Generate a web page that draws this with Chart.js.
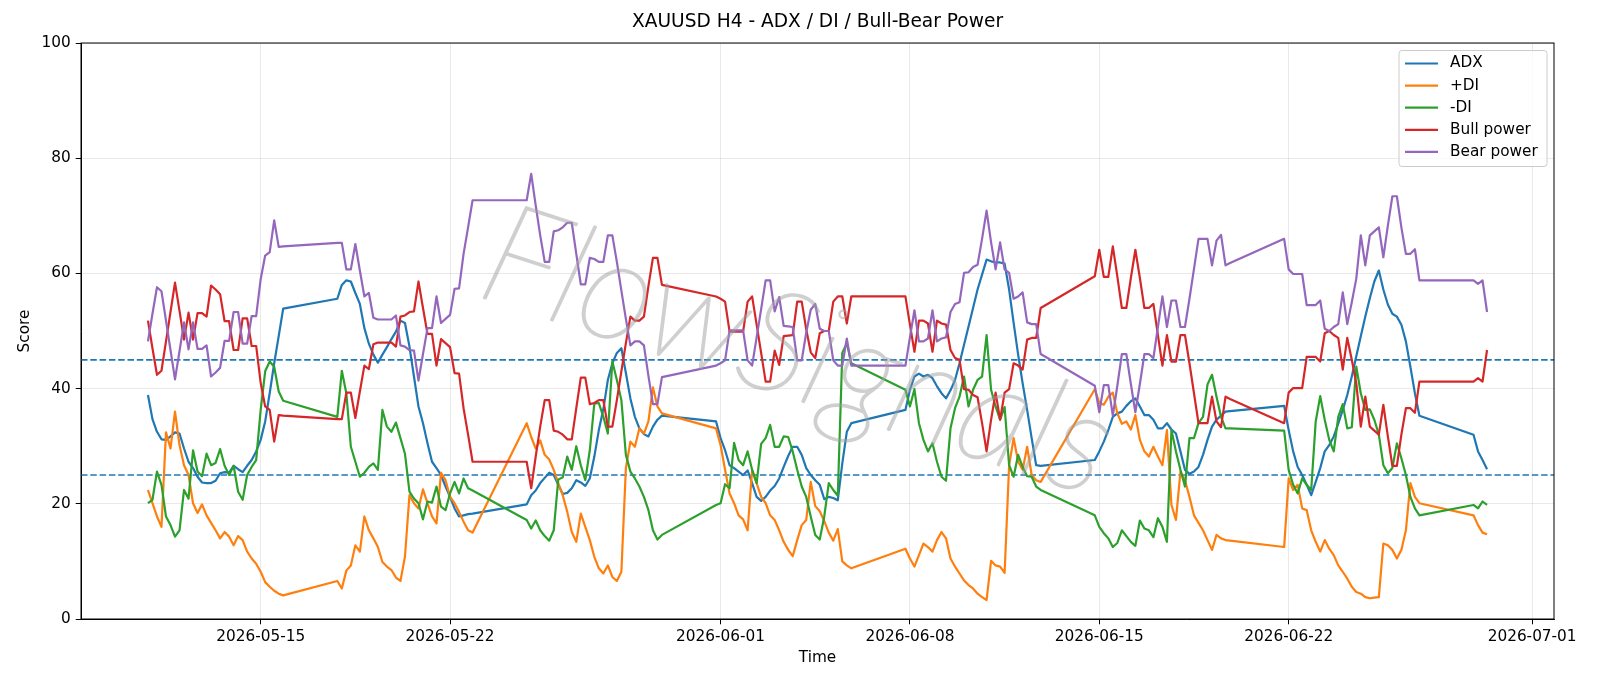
<!doctype html>
<html lang="en">
  <head>
    <meta charset="utf-8">
    <title>XAUUSD H4 - ADX / DI / Bull-Bear Power</title>
    <style>
      * {
        margin: 0;
        padding: 0;
      }
      body {
        background: #fff;
      }
      .chartBox {
        width: 1600px;
        height: 686px;
      }
    </style>
  </head>
  <body>
    <div class="chartBox">
      <canvas id="myChart" width="1600" height="686"></canvas>
    </div>
    <script src="https://cdn.jsdelivr.net/npm/chart.js"></script>
    <script>

    // setup - H4 bars, one session per week (Sun 20:00 -> Fri 20:00)
    const sessionStarts = ['2026-05-10T20:00', '2026-05-17T20:00', '2026-05-24T20:00', '2026-05-31T20:00',
                           '2026-06-07T20:00', '2026-06-14T20:00', '2026-06-21T20:00', '2026-06-28T20:00'];
    const sessionBars = [31, 31, 31, 31, 31, 31, 31, 4];

    const adx = [
      38.9, 34.7, 32.5, 31.2, 31.1, 31.7, 32.4, 32.2, 29.6, 27.3, 26.2, 24.7, 23.7, 23.6, 23.6, 24.0, 25.3, 25.5, 25.4, 26.6, 26.0, 25.5, 26.6, 27.6, 29.1, 31.1, 34.3, 39.2, 44.4, 49.1, 53.9,
      55.6, 58.0, 58.8, 58.6, 56.6, 54.7, 50.5, 47.8, 45.9, 44.5, 45.9, 47.2, 48.6, 49.9, 51.8, 51.4, 47.3, 42.1, 36.9, 34.0, 30.5, 27.3, 26.2, 25.0, 23.0, 21.2, 19.2, 17.8, 18.0, 18.2, 18.3,
      19.9, 21.5, 22.3, 23.6, 24.5, 25.4, 25.0, 23.3, 21.7, 21.9, 22.7, 24.1, 23.7, 23.1, 24.4, 28.2, 32.8, 36.4, 41.5, 44.4, 46.2, 47.0, 42.7, 38.3, 35.1, 33.1, 32.1, 31.7, 33.4, 34.6, 35.3,
      34.3, 31.4, 29.3, 26.7, 26.2, 25.6, 25.0, 25.8, 23.6, 21.2, 20.5, 21.2, 22.3, 23.1, 24.4, 26.4, 28.3, 29.9, 29.9, 28.5, 26.2, 25.0, 24.1, 23.3, 20.8, 21.2, 21.0, 20.6, 27.0, 32.5, 34.0,
      36.3, 39.8, 42.1, 42.6, 42.1, 42.4, 41.8, 40.4, 39.2, 38.3, 39.7, 41.5, 44.4, 47.6, 50.8, 54.0, 57.2, 59.8, 62.4, 62.1, 61.9, 61.9, 61.7, 57.2, 51.4, 45.9, 40.9, 36.3, 31.4, 26.7, 26.6,
      27.6, 29.1, 30.8, 32.8, 35.1, 35.7, 36.0, 37.0, 37.8, 38.3, 36.9, 35.4, 35.4, 34.6, 33.1, 33.1, 34.0, 32.9, 32.2, 29.1, 25.9, 25.2, 25.6, 26.4, 28.5, 31.1, 33.4, 34.6, 35.3, 36.0, 36.1,
      37.0, 32.8, 29.1, 26.4, 25.0, 23.3, 21.5, 23.8, 26.2, 29.1, 30.2, 31.7, 33.9, 36.3, 38.9, 42.1, 45.6, 49.1, 52.5, 55.7, 58.6, 60.5, 57.2, 54.6, 53.0, 52.5, 51.1, 48.2, 43.8, 39.2, 35.3,
      32.0, 29.1, 27.6, 26.0
    ];
    const plusDI = [
      22.4, 20.1, 17.8, 16.0, 32.4, 29.6, 36.0, 30.2, 26.7, 25.0, 20.1, 18.4, 19.9, 18.0, 16.7, 15.4, 14.0, 15.1, 14.3, 12.8, 14.4, 13.7, 11.7, 10.5, 9.6, 8.2, 6.4, 5.6, 4.9, 4.4, 4.1,
      6.6, 5.3, 8.4, 9.3, 12.8, 11.7, 17.8, 15.4, 14.0, 12.5, 9.9, 9.1, 8.5, 7.2, 6.6, 10.8, 21.5, 20.1, 19.2, 22.5, 20.1, 17.8, 16.6, 25.4, 24.1, 21.2, 20.1, 18.6, 16.9, 15.4, 15.0,
      34.0, 31.6, 29.6, 31.0, 28.5, 27.7, 25.9, 23.6, 21.5, 18.6, 15.1, 13.4, 18.3, 16.0, 13.7, 10.8, 8.8, 7.9, 9.3, 7.3, 6.6, 8.2, 26.2, 30.8, 29.9, 33.1, 32.2, 34.3, 40.2, 36.9, 35.7,
      33.1, 30.2, 25.9, 21.8, 20.1, 18.0, 17.3, 15.4, 25.9, 23.6, 21.2, 20.1, 18.0, 17.2, 15.4, 13.4, 12.0, 10.9, 13.7, 16.3, 17.2, 23.8, 19.6, 18.7, 17.0, 15.0, 13.6, 15.6, 10.0, 9.3, 8.8,
      12.2, 10.5, 9.1, 11.1, 13.1, 12.5, 11.7, 13.7, 15.1, 14.0, 10.5, 9.1, 7.9, 6.7, 5.9, 5.3, 4.4, 3.8, 3.3, 10.1, 9.3, 9.1, 8.0, 26.7, 31.4, 27.3, 25.9, 29.9, 25.0, 24.1, 23.8,
      39.9, 37.5, 37.2, 38.6, 39.3, 35.7, 33.9, 34.3, 32.9, 35.4, 31.1, 29.1, 28.2, 29.9, 28.2, 26.7, 32.8, 19.8, 17.2, 25.6, 24.1, 21.2, 18.0, 16.7, 15.4, 13.7, 12.0, 14.6, 14.0, 13.7, 13.6,
      12.5, 24.4, 22.4, 23.3, 19.2, 18.9, 15.4, 13.4, 11.7, 13.7, 12.2, 11.1, 9.3, 8.2, 7.0, 5.6, 4.7, 4.4, 3.8, 3.6, 3.7, 3.8, 13.1, 12.8, 12.0, 10.5, 12.0, 15.4, 23.6, 21.2, 20.1,
      18.0, 16.3, 15.0, 14.7
    ];
    const minusDI = [
      20.1, 20.7, 25.6, 23.3, 17.8, 16.3, 14.3, 15.4, 22.4, 20.9, 29.3, 25.6, 24.8, 28.7, 26.7, 27.1, 29.5, 26.6, 25.0, 26.6, 22.1, 20.7, 25.0, 26.4, 27.6, 36.3, 43.0, 44.7, 43.8, 39.5, 37.9,
      35.1, 43.1, 39.2, 29.9, 27.3, 24.7, 25.4, 26.4, 27.0, 25.9, 36.3, 33.4, 32.5, 34.1, 31.4, 28.7, 22.1, 20.9, 20.1, 17.3, 20.4, 20.2, 23.0, 19.5, 18.9, 21.8, 23.8, 21.8, 24.4, 22.7, 22.3,
      17.2, 15.7, 17.1, 15.4, 14.4, 13.6, 15.4, 24.2, 24.6, 28.2, 25.9, 30.0, 26.7, 24.1, 29.3, 37.4, 37.5, 35.1, 32.2, 44.7, 41.5, 38.0, 28.5, 25.6, 24.4, 23.0, 21.2, 18.9, 15.4, 13.8, 14.6,
      19.8, 20.1, 23.4, 22.7, 30.6, 27.6, 26.7, 29.1, 25.9, 23.6, 30.4, 31.4, 33.7, 29.9, 29.9, 31.7, 31.6, 29.1, 25.9, 23.0, 21.2, 17.8, 14.6, 13.8, 17.8, 23.6, 22.4, 21.4, 46.2, 47.9, 44.4,
      39.8, 36.9, 39.9, 34.0, 31.1, 29.1, 30.5, 27.3, 24.7, 24.0, 33.1, 36.6, 38.6, 42.1, 36.9, 39.8, 41.5, 42.1, 49.3, 39.8, 36.9, 34.6, 36.8, 26.7, 24.7, 28.5, 26.4, 24.8, 24.7, 23.0, 22.4,
      18.0, 16.0, 14.9, 14.0, 12.5, 13.2, 15.4, 14.4, 13.4, 12.7, 17.1, 15.7, 15.4, 14.2, 17.5, 16.0, 13.4, 32.8, 29.1, 25.9, 23.0, 31.4, 31.4, 34.0, 35.1, 40.7, 42.4, 38.6, 35.1, 33.1, 33.1,
      32.7, 25.9, 23.3, 21.8, 24.4, 23.3, 22.4, 34.3, 38.7, 34.6, 31.1, 29.1, 35.1, 37.3, 33.1, 33.3, 43.8, 39.2, 36.3, 36.4, 34.6, 32.0, 26.7, 25.3, 26.2, 30.5, 27.9, 25.0, 21.2, 19.2, 18.0,
      19.8, 19.2, 20.4, 19.8
    ];
    const bullPower = [
      51.8, 47.0, 42.4, 43.1, 48.2, 53.3, 58.4, 53.5, 48.5, 53.2, 48.5, 53.1, 53.1, 52.5, 57.9, 57.2, 56.4, 51.7, 51.7, 46.7, 46.7, 52.2, 52.2, 47.4, 47.4, 41.0, 36.9, 36.3, 30.8, 35.4, 35.3,
      34.7, 34.7, 39.3, 39.3, 34.9, 39.5, 44.0, 43.4, 47.7, 48.0, 48.0, 48.0, 48.0, 47.3, 52.5, 52.7, 53.3, 53.4, 58.6, 54.0, 49.5, 49.5, 44.0, 48.6, 47.9, 47.2, 42.7, 42.6, 36.6, 32.0, 27.3,
      27.3, 22.7, 28.2, 33.4, 38.0, 38.0, 32.7, 32.5, 32.0, 31.2, 31.2, 36.6, 41.9, 41.9, 37.3, 37.5, 38.0, 38.0, 33.4, 33.4, 38.0, 43.0, 47.9, 52.5, 51.8, 51.8, 52.5, 57.8, 62.7, 62.7, 58.0,
      56.0, 55.6, 55.1, 49.9, 49.9, 49.9, 49.9, 55.1, 56.0, 51.1, 46.2, 41.2, 41.2, 46.6, 44.1, 49.1, 49.2, 49.3, 55.1, 55.1, 50.3, 46.3, 45.3, 49.6, 50.0, 50.0, 55.1, 56.0, 56.0, 51.3, 56.0,
      56.0, 51.1, 46.4, 51.8, 51.8, 51.3, 46.4, 51.8, 51.3, 51.1, 46.7, 45.3, 45.0, 39.9, 39.8, 38.9, 38.5, 34.0, 29.1, 34.6, 39.3, 34.6, 39.3, 39.9, 44.4, 44.0, 43.3, 48.5, 48.8, 48.8, 54.0,
      59.5, 64.1, 59.4, 59.4, 64.7, 59.5, 54.0, 54.0, 59.2, 64.1, 59.2, 54.0, 54.0, 54.7, 49.3, 44.0, 49.3, 44.7, 44.7, 49.3, 49.3, 44.4, 39.2, 34.0, 34.0, 34.0, 38.6, 34.3, 33.3, 38.6, 38.2,
      34.0, 39.3, 40.1, 40.1, 40.1, 45.5, 45.5, 45.5, 44.7, 49.6, 50.0, 49.3, 48.8, 43.3, 48.8, 45.0, 40.9, 33.4, 38.6, 33.4, 32.7, 32.0, 37.2, 31.7, 26.6, 26.6, 32.0, 36.6, 36.6, 35.8, 41.2,
      41.2, 41.8, 41.2, 46.7
    ];
    const bearPower = [
      48.2, 53.0, 57.6, 56.9, 51.8, 46.7, 41.6, 46.5, 51.5, 46.8, 51.5, 46.9, 46.9, 47.5, 42.1, 42.8, 43.6, 48.3, 48.3, 53.3, 53.3, 47.8, 47.8, 52.6, 52.6, 59.0, 63.1, 63.7, 69.2, 64.6, 64.7,
      65.3, 65.3, 60.7, 60.7, 65.1, 60.5, 56.0, 56.6, 52.3, 52.0, 52.0, 52.0, 52.0, 52.7, 47.5, 47.3, 46.7, 46.6, 41.4, 46.0, 50.5, 50.5, 56.0, 51.4, 52.1, 52.8, 57.3, 57.4, 63.4, 68.0, 72.7,
      72.7, 77.3, 71.8, 66.6, 62.0, 62.0, 67.3, 67.5, 68.0, 68.8, 68.8, 63.4, 58.1, 58.1, 62.7, 62.5, 62.0, 62.0, 66.6, 66.6, 62.0, 57.0, 52.1, 47.5, 48.2, 48.2, 47.5, 42.2, 37.3, 37.3, 42.0,
      44.0, 44.4, 44.9, 50.1, 50.1, 50.1, 50.1, 44.9, 44.0, 48.9, 53.8, 58.8, 58.8, 53.4, 55.9, 50.9, 50.8, 50.7, 44.9, 44.9, 49.7, 53.7, 54.7, 50.4, 50.0, 50.0, 44.9, 44.0, 44.0, 48.7, 44.0,
      44.0, 48.9, 53.6, 48.2, 48.2, 48.7, 53.6, 48.2, 48.7, 48.9, 53.3, 54.7, 55.0, 60.1, 60.2, 61.1, 61.5, 66.0, 70.9, 65.4, 60.7, 65.4, 60.7, 60.1, 55.6, 56.0, 56.7, 51.5, 51.2, 51.2, 46.0,
      40.5, 35.9, 40.6, 40.6, 35.3, 40.5, 46.0, 46.0, 40.8, 35.9, 40.8, 46.0, 46.0, 45.3, 50.7, 56.0, 50.7, 55.3, 55.3, 50.7, 50.7, 55.6, 60.8, 66.0, 66.0, 66.0, 61.4, 65.7, 66.7, 61.4, 61.8,
      66.0, 60.7, 59.9, 59.9, 59.9, 54.5, 54.5, 54.5, 55.3, 50.4, 50.0, 50.7, 51.2, 56.7, 51.2, 55.0, 59.1, 66.6, 61.4, 66.6, 67.3, 68.0, 62.8, 68.3, 73.4, 73.4, 68.0, 63.4, 63.4, 64.2, 58.8,
      58.8, 58.2, 58.8, 53.3
    ];

    const seriesLabels = ['ADX', '+DI', '-DI', 'Bull power', 'Bear power'];
    const seriesValues = [adx, plusDI, minusDI, bullPower, bearPower];
    const seriesColors = ['#1f77b4', '#ff7f0e', '#2ca02c', '#d62728', '#9467bd'];

    const xTickLabels = ['2026-05-15', '2026-05-22', '2026-06-01', '2026-06-08', '2026-06-15', '2026-06-22', '2026-07-01'];
    const thresholds = [25, 45];

    // bar times
    const HOUR = 3600 * 1000;
    const times = [];
    sessionStarts.forEach((s, i) => {
      const start = Date.parse(s + ':00Z');
      for (let k = 0; k < sessionBars[i]; k++) {
        times.push(start + k * 4 * HOUR);
      }
    });
    const span = times[times.length - 1] - times[0];
    const xMin = times[0] - 0.05 * span;
    const xMax = times[times.length - 1] + 0.05 * span;

    Chart.defaults.font.family = "'DejaVu Sans', 'Liberation Sans', sans-serif";
    Chart.defaults.font.size = 15.3;
    Chart.defaults.color = '#000';

    const data = {
      datasets: seriesValues.map((vals, i) => ({
        label: seriesLabels[i],
        data: vals.map((v, k) => ({ x: times[k], y: v })),
        borderColor: seriesColors[i],
        backgroundColor: seriesColors[i],
        borderWidth: 2.2,
        borderJoinStyle: 'round',
        pointRadius: 0,
        tension: 0,
        fill: false,
        order: seriesValues.length - i
      }))
    };

    // threshold lines
    const refLines = {
      id: 'refLines',
      beforeDatasetsDraw(chart) {
        const { ctx, chartArea, scales } = chart;
        ctx.save();
        ctx.strokeStyle = '#1f77b4';
        ctx.lineWidth = 1.7;
        ctx.setLineDash([6.5, 2.8]);
        thresholds.forEach(t => {
          const y = scales.y.getPixelForValue(t);
          ctx.beginPath();
          ctx.moveTo(chartArea.left, y);
          ctx.lineTo(chartArea.right, y);
          ctx.stroke();
        });
        ctx.restore();
      }
    };

    // watermark
    const watermark = {
      id: 'watermark',
      afterDatasetsDraw(chart) {
        const { ctx } = chart;
        ctx.save();
        ctx.translate(798, 352);
        ctx.rotate(18 * Math.PI / 180);
        ctx.font = "italic 100 142px Lato, 'DejaVu Sans'";
        ctx.textAlign = 'center';
        ctx.textBaseline = 'middle';
        ctx.fillStyle = 'rgba(160, 160, 160, 0.5)';
        ctx.strokeStyle = 'rgba(160, 160, 160, 0.5)';
        ctx.lineWidth = 2.2;
        ctx.lineJoin = 'round';
        ctx.strokeText('FlowSignals', 0, 0);
        ctx.restore();
      }
    };

    // box around plot + legend
    const frame = {
      id: 'frame',
      afterDraw(chart) {
        const { ctx, chartArea } = chart;
        ctx.save();
        ctx.strokeStyle = '#000';
        ctx.lineWidth = 1;
        ctx.strokeRect(chartArea.left, chartArea.top, chartArea.right - chartArea.left, chartArea.bottom - chartArea.top);

        // legend, upper right
        const x0 = 1399, y0 = 50.5, w = 148, h = 116;
        ctx.beginPath();
        ctx.roundRect(x0, y0, w, h, 3);
        ctx.fillStyle = 'rgba(255, 255, 255, 0.8)';
        ctx.fill();
        ctx.strokeStyle = '#cccccc';
        ctx.stroke();
        ctx.font = "15.3px 'DejaVu Sans'";
        ctx.textBaseline = 'middle';
        ctx.textAlign = 'left';
        chart.data.datasets.forEach((ds, i) => {
          const y = 63.5 + i * 22.1;
          ctx.strokeStyle = ds.borderColor;
          ctx.lineWidth = 2.2;
          ctx.beginPath();
          ctx.moveTo(1405, y);
          ctx.lineTo(1438, y);
          ctx.stroke();
          ctx.fillStyle = '#000';
          ctx.fillText(ds.label, 1450, y);
        });
        ctx.restore();
      }
    };

    // config
    const config = {
      type: 'line',
      data,
      options: {
        responsive: false,
        animation: false,
        devicePixelRatio: 1,
        layout: {
          padding: { left: 0, right: 46, top: 0, bottom: 0 }
        },
        scales: {
          x: {
            type: 'linear',
            min: xMin,
            max: xMax,
            afterBuildTicks: scale => {
              scale.ticks = xTickLabels.map(d => ({ value: Date.parse(d + 'T00:00:00Z') }));
            },
            afterFit: scale => { scale.height = 67; },
            ticks: {
              autoSkip: false,
              maxRotation: 0,
              padding: 4,
              callback: v => new Date(v).toISOString().slice(0, 10)
            },
            grid: {
              color: 'rgba(176, 176, 176, 0.35)',
              lineWidth: 0.8,
              tickColor: '#000',
              tickLength: 5.3,
              tickWidth: 1
            },
            border: { color: '#000', width: 1 },
            title: {
              display: true,
              text: 'Time',
              padding: { top: 0, bottom: 19 }
            }
          },
          y: {
            min: 0,
            max: 100,
            afterFit: scale => { scale.width = 81; },
            ticks: {
              stepSize: 20,
              padding: 5
            },
            grid: {
              color: 'rgba(176, 176, 176, 0.35)',
              lineWidth: 0.8,
              tickColor: '#000',
              tickLength: 5.3,
              tickWidth: 1
            },
            border: { color: '#000', width: 1 },
            title: {
              display: true,
              text: 'Score',
              padding: { top: 16, bottom: 0 }
            }
          }
        },
        plugins: {
          legend: { display: false },
          tooltip: { enabled: false },
          title: {
            display: true,
            text: 'XAUUSD H4 - ADX / DI / Bull-Bear Power',
            fullSize: false,
            color: '#000',
            font: { size: 18.6, weight: 'normal' },
            padding: { top: 11, bottom: 9.7 }
          }
        }
      },
      plugins: [refLines, watermark, frame]
    };

    // render init block
    const myChart = new Chart(
      document.getElementById('myChart'),
      config
    );
    </script>
  </body>
</html>
